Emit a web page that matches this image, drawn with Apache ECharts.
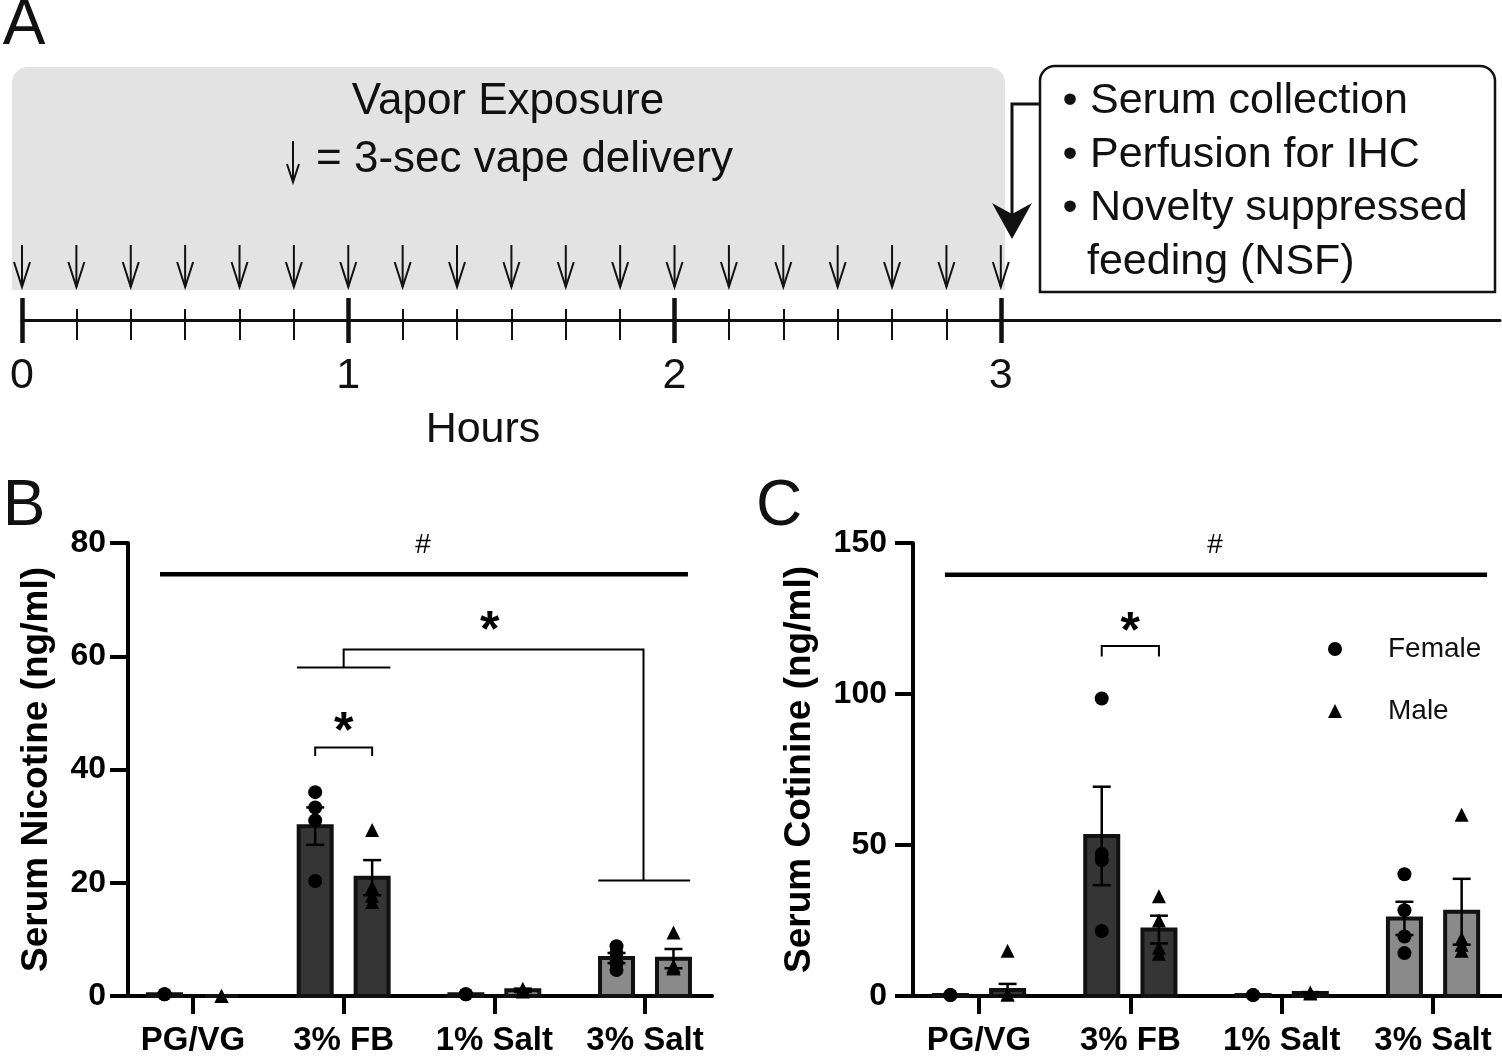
<!DOCTYPE html>
<html><head><meta charset="utf-8">
<script src="https://cdn.jsdelivr.net/npm/echarts@6/dist/echarts.min.js"></script>
<style>html,body{margin:0;padding:0;background:#fff}#c{width:1502px;height:1057px}</style>
</head><body><div id="c"></div>
<script>
// ---------- DATA ----------
const groups = ['PG/VG', '3% FB', '1% Salt', '3% Salt'];

// Panel A: timeline (minutes)
const hourLabels = [0, 1, 2, 3];
const minorTickMinutes = [10,20,30,40,50,70,80,90,100,110,130,140,150,160,170];
const puffMinutes = [0,10,20,30,40,50,60,70,80,90,100,110,120,130,140,150,160,170,180];

// Panel B: serum nicotine (ng/ml)
const nicFemaleMean = [0.3, 30.0, 0.3, 6.7];
const nicFemaleSem  = [0, 3.3, 0, 0.9];
const nicMaleMean   = [0, 20.9, 1.0, 6.6];
const nicMaleSem    = [0, 3.1, 0.3, 1.7];
const nicFemalePts  = [[0.3, 0.3], [36.0, 33.3, 31.0, 20.3], [0.3, 0.3], [8.8, 7.6, 5.8, 4.6]];
const nicMalePts    = [[0, 0], [29.3, 19.2, 17.7, 16.6], [1.3, 0.8], [11.2, 5.3, 4.9, 4.9]];

// Panel C: serum cotinine (ng/ml)
const cotFemaleMean = [0.3, 53.0, 0.3, 25.7];
const cotFemaleSem  = [0, 16.3, 0, 5.5];
const cotMaleMean   = [2.0, 22.0, 1.0, 27.9];
const cotMaleSem    = [2.0, 4.6, 0.3, 10.9];
const cotFemalePts  = [[0.3, 0.3], [98.5, 47.0, 45.0, 21.5], [0.3, 0.3], [40.3, 28.4, 19.7, 14.2]];
const cotMalePts    = [[15.0, 0.5, 0.5], [33.0, 25.0, 16.0, 14.0], [1.2, 0.8], [60.0, 19.0, 17.0, 15.0]];

// ---------- STYLE ----------
const FONT = "'Liberation Sans', Arial, sans-serif";
const barFill = ['#353535', '#353535', '#8a8a8a', '#8a8a8a'];
const OFF = 0.189; // female / male offset within a group (category units)

const chart = echarts.init(document.getElementById('c'), null, {renderer: 'canvas'});

function barSeries(gi, means, sems, off) {
  return {
    type: 'custom', xAxisIndex: gi, yAxisIndex: gi, z: 2, clip: false, silent: true,
    data: means.map((m, i) => [i + off, m, sems[i], i]),
    renderItem(params, api) {
      const x = api.value(0), m = api.value(1), s = api.value(2), g = api.value(3);
      const top = api.coord([x, m]), base = api.coord([x, 0]);
      const half = 16.5;
      const ch = [{
        type: 'rect',
        shape: {x: top[0] - half, y: top[1], width: half * 2, height: base[1] - top[1]},
        style: {fill: barFill[g], stroke: '#111', lineWidth: 4}
      }];
      if (s > 0) {
        const hi = api.coord([x, m + s]), lo = api.coord([x, m - s]);
        const st = {stroke: '#000', lineWidth: 2.5};
        ch.push({type: 'line', shape: {x1: hi[0], y1: hi[1], x2: lo[0], y2: lo[1]}, style: st});
        ch.push({type: 'line', shape: {x1: hi[0] - 9, y1: hi[1], x2: hi[0] + 9, y2: hi[1]}, style: st});
        ch.push({type: 'line', shape: {x1: lo[0] - 9, y1: lo[1], x2: lo[0] + 9, y2: lo[1]}, style: st});
      }
      return {type: 'group', children: ch};
    }
  };
}

function pointSeries(gi, name, pts, off, symbol) {
  const data = [];
  pts.forEach((arr, i) => arr.forEach(v => data.push([i + off, v])));
  return {
    type: 'scatter', name, xAxisIndex: gi, yAxisIndex: gi, z: 4, silent: true,
    symbol, symbolSize: 14, itemStyle: {color: '#000', opacity: 1}, data
  };
}

function annotSeries(gi, items) {
  return {
    type: 'custom', xAxisIndex: gi, yAxisIndex: gi, z: 5, clip: false, silent: true,
    data: [[0, 0]],
    renderItem(params, api) {
      const ch = items.map(it => {
        if (it.pts) {
          return {type: 'polyline', shape: {points: it.pts.map(p => api.coord(p))},
                  style: {stroke: '#000', lineWidth: it.w, fill: null}};
        }
        const p = api.coord(it.at);
        return {type: 'text', x: p[0], y: p[1] + (it.dy || 0),
                style: {text: it.text, font: it.font, fill: '#000', align: 'center', verticalAlign: 'middle'}};
      });
      return {type: 'group', children: ch};
    }
  };
}

function yAxisCfg(gi, max, interval, name, gap, margin) {
  return {
    gridIndex: gi, type: 'value', min: 0, max, interval,
    name, nameLocation: 'middle', nameGap: gap, nameRotate: 90,
    nameTextStyle: {fontFamily: FONT, fontWeight: 'bold', fontSize: 37, color: '#000'},
    axisLine: {show: true, onZero: false, lineStyle: {color: '#000', width: 4}},
    axisTick: {show: true, length: 18, lineStyle: {color: '#000', width: 4}},
    axisLabel: {fontFamily: FONT, fontWeight: 'bold', fontSize: 32, color: '#000', margin},
    splitLine: {show: false}
  };
}
function xAxisCfg(gi, min, max) {
  return {
    gridIndex: gi, type: 'value', min, max, position: 'bottom',
    axisLine: {show: true, onZero: false, lineStyle: {color: '#000', width: 4}},
    axisTick: {show: true, customValues: [0, 1, 2, 3], length: 18, lineStyle: {color: '#000', width: 4}},
    axisLabel: {customValues: [0, 1, 2, 3], formatter: v => groups[Math.round(v)],
                fontFamily: FONT, fontWeight: 'bold', fontSize: 33, color: '#000', margin: 28},
    splitLine: {show: false}
  };
}
function timeAxis(ticks, len, w, inside, showLine, showLabel) {
  return {
    gridIndex: 2, type: 'value', min: 0, max: 4.53, position: 'bottom',
    axisLine: {show: showLine, onZero: false, lineStyle: {color: '#111', width: 3}},
    axisTick: {show: true, customValues: ticks, length: len, inside, lineStyle: {color: '#111', width: w}},
    axisLabel: {show: showLabel, customValues: hourLabels, formatter: v => String(Math.round(v)),
                fontFamily: FONT, fontSize: 43, color: '#111', margin: 35},
    splitLine: {show: false}
  };
}

const minorHours = minorTickMinutes.map(m => m / 60);

const option = {
  backgroundColor: '#fff',
  animation: false,
  grid: [
    {left: 128, top: 543, width: 584, height: 454},
    {left: 913, top: 543, width: 588, height: 457},
    {left: 22, top: 240, width: 1478, height: 80}
  ],
  xAxis: [
    xAxisCfg(0, -0.4314, 3.4447),
    xAxisCfg(1, -0.436, 3.449),
    timeAxis(hourLabels, 23, 4.5, false, true, true),
    timeAxis(hourLabels, 22, 4.5, true, false, false),
    timeAxis(minorHours, 20, 2, false, false, false),
    timeAxis(minorHours, 11, 2, true, false, false)
  ],
  yAxis: [
    yAxisCfg(0, 80, 20, 'Serum Nicotine (ng/ml)', 73, 22),
    yAxisCfg(1, 150, 50, 'Serum Cotinine (ng/ml)', 95, 26),
    {gridIndex: 2, type: 'value', min: 0, max: 80, show: false}
  ],
  legend: {
    orient: 'vertical', left: 1323, top: 630, itemWidth: 14, itemHeight: 14, itemGap: 34,
    selectedMode: false,
    textStyle: {fontFamily: FONT, fontSize: 28, color: '#111', padding: [0, 0, 0, 41], lineHeight: 28},
    data: [{name: 'Female', icon: 'circle'}, {name: 'Male', icon: 'triangle'}]
  },
  series: [
    barSeries(0, nicFemaleMean, nicFemaleSem, -OFF),
    barSeries(0, nicMaleMean, nicMaleSem, OFF),
    pointSeries(0, 'Female', nicFemalePts, -OFF, 'circle'),
    pointSeries(0, 'Male', nicMalePts, OFF, 'triangle'),
    barSeries(1, cotFemaleMean, cotFemaleSem, -OFF),
    barSeries(1, cotMaleMean, cotMaleSem, OFF),
    pointSeries(1, 'Female', cotFemalePts, -OFF, 'circle'),
    pointSeries(1, 'Male', cotMalePts, OFF, 'triangle'),
    annotSeries(0, [
      {text: '#', at: [1.527, 79.6], font: `28px ${FONT}`},
      {pts: [[-0.219, 74.5], [3.285, 74.5]], w: 4.5},
      {pts: [[0.69, 58.0], [1.31, 58.0]], w: 2},
      {pts: [[1, 58.0], [1, 61.2], [2.99, 61.2], [2.99, 20.4]], w: 2},
      {pts: [[2.69, 20.4], [3.30, 20.4]], w: 2},
      {text: '*', at: [1.97, 66.4], dy: 12, font: `bold 50px ${FONT}`},
      {pts: [[1 - OFF, 42.4], [1 - OFF, 43.9], [1 + OFF, 43.9], [1 + OFF, 42.4]], w: 2},
      {text: '*', at: [1, 48.5], dy: 12, font: `bold 50px ${FONT}`}
    ]),
    annotSeries(1, [
      {text: '#', at: [1.56, 149.3], font: `28px ${FONT}`},
      {pts: [[-0.225, 139.5], [3.357, 139.5]], w: 4.5},
      {pts: [[1 - OFF, 112.4], [1 - OFF, 115.9], [1 + OFF, 115.9], [1 + OFF, 112.4]], w: 2},
      {text: '*', at: [1, 124.0], dy: 12, font: `bold 50px ${FONT}`}
    ]),
    {
      type: 'custom', xAxisIndex: 2, yAxisIndex: 2, z: 5, clip: false, silent: true,
      data: puffMinutes.map(m => [m / 60]),
      renderItem(params, api) {
        const t = api.value(0);
        const a = api.coord([t, 75]), b = api.coord([t, 33]);
        const st = {stroke: '#111', lineWidth: 2, fill: null};
        return {type: 'group', children: [
          {type: 'line', shape: {x1: a[0], y1: a[1], x2: b[0], y2: b[1]}, style: st},
          {type: 'polyline', shape: {points: [[b[0] - 8, b[1] - 25], [b[0], b[1]], [b[0] + 8, b[1] - 25]]}, style: st}
        ]};
      }
    }
  ],
  graphic: [
    {type: 'rect', z: -10, shape: {x: 12, y: 67, width: 993, height: 223, r: [16, 16, 0, 0]}, style: {fill: '#e3e3e3'}},
    {type: 'text', x: 508, y: 102, style: {text: 'Vapor Exposure', font: `44px ${FONT}`, fill: '#111', align: 'center', verticalAlign: 'middle'}},
    {type: 'line', shape: {x1: 293, y1: 141, x2: 293, y2: 182}, style: {stroke: '#111', lineWidth: 2}},
    {type: 'polyline', shape: {points: [[287, 164], [293, 182], [299, 164]]}, style: {stroke: '#111', lineWidth: 2, fill: null}},
    {type: 'text', x: 316, y: 160, style: {text: '= 3-sec vape delivery', font: `44px ${FONT}`, fill: '#111', align: 'left', verticalAlign: 'middle'}},
    {type: 'rect', shape: {x: 1040, y: 66, width: 455, height: 226, r: [15, 15, 0, 0]}, style: {fill: '#fff', stroke: '#111', lineWidth: 2.5}},
    {type: 'text', x: 1070, y: 101, style: {text: '•', font: `43px ${FONT}`, fill: '#111', align: 'center', verticalAlign: 'middle'}},
    {type: 'text', x: 1090, y: 101, style: {text: 'Serum collection', font: `43px ${FONT}`, fill: '#111', align: 'left', verticalAlign: 'middle'}},
    {type: 'text', x: 1070, y: 155, style: {text: '•', font: `43px ${FONT}`, fill: '#111', align: 'center', verticalAlign: 'middle'}},
    {type: 'text', x: 1090, y: 155, style: {text: 'Perfusion for IHC', font: `43px ${FONT}`, fill: '#111', align: 'left', verticalAlign: 'middle'}},
    {type: 'text', x: 1070, y: 208, style: {text: '•', font: `43px ${FONT}`, fill: '#111', align: 'center', verticalAlign: 'middle'}},
    {type: 'text', x: 1090, y: 208, style: {text: 'Novelty suppressed', font: `43px ${FONT}`, fill: '#111', align: 'left', verticalAlign: 'middle'}},
    {type: 'text', x: 1087, y: 262, style: {text: 'feeding (NSF)', font: `43px ${FONT}`, fill: '#111', align: 'left', verticalAlign: 'middle'}},
    {type: 'polyline', shape: {points: [[1040, 104], [1012, 104], [1012, 216]]}, style: {stroke: '#111', lineWidth: 3, fill: null}},
    {type: 'polygon', shape: {points: [[1012, 239], [992, 203], [1012, 214], [1032, 203]]}, style: {fill: '#111'}},
    {type: 'text', x: 483, y: 430, style: {text: 'Hours', font: `43px ${FONT}`, fill: '#111', align: 'center', verticalAlign: 'middle'}},
    {type: 'text', x: 24, y: 26, style: {text: 'A', font: `64px ${FONT}`, fill: '#111', align: 'center', verticalAlign: 'middle'}},
    {type: 'text', x: 24, y: 507, style: {text: 'B', font: `64px ${FONT}`, fill: '#111', align: 'center', verticalAlign: 'middle'}},
    {type: 'text', x: 779, y: 507, style: {text: 'C', font: `64px ${FONT}`, fill: '#111', align: 'center', verticalAlign: 'middle'}}
  ]
};
chart.setOption(option);
</script>
</body></html>
